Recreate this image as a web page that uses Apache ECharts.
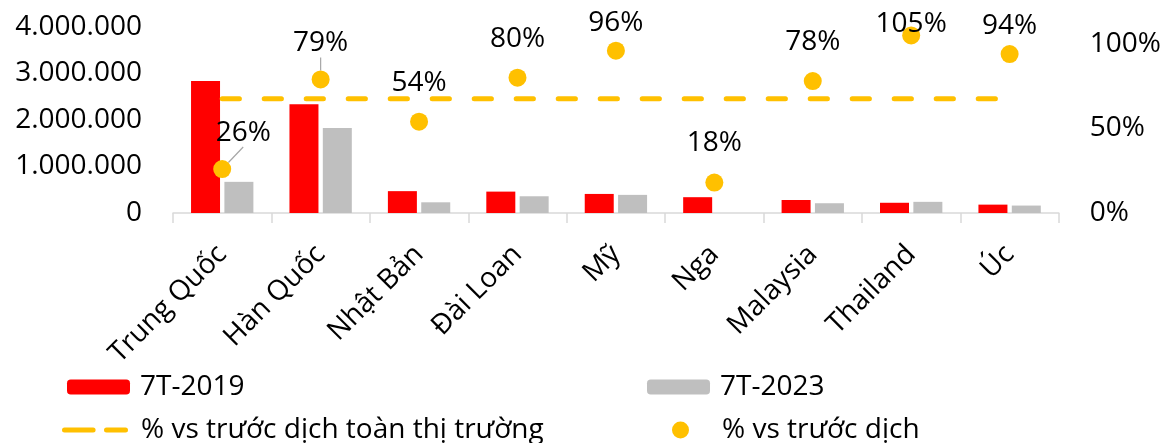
<!DOCTYPE html>
<html>
<head>
<meta charset="utf-8">
<script src="https://cdn.jsdelivr.net/npm/echarts@6/dist/echarts.min.js"></script>
<style>
html,body{margin:0;padding:0;background:#fff;}
#chart{width:1164px;height:443px;}
</style>
</head>
<body>
<div id="chart"></div>
<script>
// ---- data ----
const categories = ['Trung Quốc', 'Hàn Quốc', 'Nhật Bản', 'Đài Loan', 'Mỹ', 'Nga', 'Malaysia', 'Thailand', 'Úc'];
const arrivals2019 = [2840000, 2340000, 470000, 460000, 410000, 340000, 280000, 220000, 180000];
const arrivals2023 = [670000, 1830000, 230000, 360000, 390000, 0, 210000, 240000, 160000];
const recoveryByMarket = [0.26, 0.79, 0.54, 0.80, 0.96, 0.18, 0.78, 1.05, 0.94];
const recoveryOverall = [0.675, 0.675, 0.675, 0.675, 0.675, 0.675, 0.675, 0.675, 0.675];
const seriesNames = ['7T-2019', '7T-2023', '% vs trước dịch toàn thị trường', '% vs trước dịch'];

// ---- styling ----
const FONT = 'Open Sans';
const FS = 28;
const labelShift = [[21, 3], [0, 3], [0, 0], [0, 0], [0, 11], [0, -1], [0, 0], [0, 28], [0, 11]];
const withLeader = [true, true, false, false, false, false, false, false, false];
const dashIcon = 'path://M2.5,0H31.1A2.5,2.5,0,0,1,31.1,5H2.5A2.5,2.5,0,0,1,2.5,0Z' +
                 'M44.5,0H63.5A2.5,2.5,0,0,1,63.5,5H44.5A2.5,2.5,0,0,1,44.5,0Z';

function thousands(v) {
  return String(Math.round(v)).replace(/\B(?=(\d{3})+(?!\d))/g, '.');
}

const chart = echarts.init(document.getElementById('chart'), null, {renderer: 'canvas'});
const txt = {color: '#000', fontFamily: FONT, fontSize: FS};

const option = {
  animation: false,
  backgroundColor: '#fff',
  textStyle: {fontFamily: FONT},
  grid: {left: 173, right: 105, top: 27, bottom: 230, containLabel: false},
  xAxis: {
    type: 'category',
    data: categories,
    axisLine: {lineStyle: {color: '#d9d9d9', width: 1.5}},
    axisTick: {show: true, length: 10, lineStyle: {color: '#d9d9d9', width: 1.5}},
    axisLabel: Object.assign({rotate: 45, interval: 0, margin: 37}, txt)
  },
  yAxis: [
    {
      type: 'value', min: 0, max: 4000000, interval: 1000000,
      axisLine: {show: false}, axisTick: {show: false}, splitLine: {show: false},
      axisLabel: Object.assign({margin: 31, formatter: thousands}, txt)
    },
    {
      type: 'value', min: 0, max: 1.1, interval: 0.5,
      axisLine: {show: false}, axisTick: {show: false}, splitLine: {show: false},
      axisLabel: Object.assign({margin: 31, showMaxLabel: false,
        formatter: v => Math.round(v * 100) + '%'}, txt)
    }
  ],
  legend: [
    {data: [seriesNames[0]], left: 67, top: 373, padding: 0, itemWidth: 63, itemHeight: 15, itemGap: 0,
     textStyle: Object.assign({padding: [0, 0, 0, 5]}, txt)},
    {data: [{name: seriesNames[2], icon: dashIcon}],
     left: 62, top: 416, padding: 0, itemWidth: 66, itemHeight: 5, itemGap: 0,
     textStyle: Object.assign({padding: [0, 0, 0, 8]}, txt)},
    {data: [seriesNames[1]], left: 647, top: 373, padding: 0, itemWidth: 63, itemHeight: 15, itemGap: 0,
     textStyle: Object.assign({padding: [0, 0, 0, 5]}, txt)},
    {data: [{name: seriesNames[3], icon: 'circle'}], left: 672, top: 416, padding: 0, itemWidth: 63, itemHeight: 17, itemGap: 0,
     textStyle: Object.assign({padding: [0, 0, 0, 5]}, txt)}
  ],
  series: [
    {
      name: seriesNames[0], type: 'bar', yAxisIndex: 0, data: arrivals2019,
      barWidth: 29, barGap: '15%', itemStyle: {color: '#FF0000'}
    },
    {
      name: seriesNames[1], type: 'bar', yAxisIndex: 0, data: arrivals2023,
      barWidth: 29, barGap: '15%', itemStyle: {color: '#BFBFBF'}
    },
    {
      name: seriesNames[2], type: 'line', yAxisIndex: 1, data: recoveryOverall,
      symbol: 'none', showSymbol: false, z: 3,
      itemStyle: {color: '#FFC000'},
      lineStyle: {color: '#FFC000', width: 5, type: [17.2, 24.8], cap: 'round'}
    },
    {
      name: seriesNames[3], type: 'scatter', yAxisIndex: 1, z: 4,
      symbol: 'circle', symbolSize: 18,
      itemStyle: {color: '#FFC000', opacity: 1},
      data: recoveryByMarket.map((v, i) => ({
        value: v,
        labelLine: {show: withLeader[i], lineStyle: {color: '#a6a6a6', width: 1.2}}
      })),
      label: Object.assign({show: true, position: 'top', distance: 16, opacity: 1,
        formatter: p => Math.round(p.value * 100) + '%'}, txt),
      labelLine: {show: false, lineStyle: {color: '#a6a6a6', width: 1.2}},
      labelLayout: p => ({dx: labelShift[p.dataIndex][0], dy: labelShift[p.dataIndex][1]})
    }
  ]
};
chart.setOption(option);
</script>
</body>
</html>
